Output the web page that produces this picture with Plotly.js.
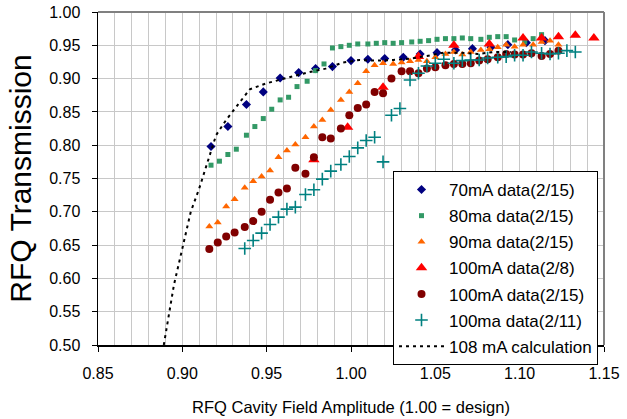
<!DOCTYPE html>
<html>
<head>
<meta charset="utf-8">
<script src="https://cdn.plot.ly/plotly-3.0.1.min.js"></script>
<style>html,body{margin:0;padding:0;background:#fff;}#chart{width:627px;height:419px;}</style>
</head>
<body>
<div id="chart"></div>
<script>
// ---- data ----
const seriesNames = ["70mA data(2/15)", "80ma data(2/15)", "90ma data(2/15)", "100mA data(2/8)", "100mA data(2/15)", "100ma data(2/11)", "108 mA calculation"];

const x70 = [0.917,0.927,0.938,0.948,0.958,0.969,0.979,0.989,1.000,1.010,1.020,1.031,1.041,1.051,1.062,1.072,1.083,1.093,1.104,1.115];
const y70 = [0.798,0.828,0.861,0.880,0.901,0.909,0.915,0.918,0.927,0.929,0.930,0.932,0.937,0.939,0.943,0.945,0.947,0.951,0.954,0.957];

const x80 = [0.917,0.922,0.927,0.932,0.938,0.943,0.948,0.953,0.958,0.963,0.968,0.974,0.979,0.984,0.989,0.994,0.999,1.004,1.010,1.015,1.020,1.025,1.030,1.036,1.041,1.046,1.051,1.056,1.061,1.066,1.071,1.077,1.082,1.087,1.092,1.097,1.103,1.108,1.113];
const y80 = [0.770,0.776,0.786,0.794,0.815,0.828,0.840,0.854,0.868,0.872,0.888,0.896,0.912,0.922,0.946,0.948,0.950,0.952,0.952,0.953,0.954,0.953,0.954,0.955,0.956,0.957,0.959,0.960,0.960,0.961,0.960,0.959,0.962,0.963,0.963,0.958,0.955,0.960,0.966];

const x90 = [0.916,0.921,0.926,0.931,0.937,0.942,0.947,0.952,0.957,0.962,0.967,0.973,0.978,0.983,0.988,0.994,0.999,1.004,1.009,1.014,1.019,1.025,1.030,1.035,1.040,1.045,1.050,1.056,1.061,1.066,1.071,1.077,1.082,1.087,1.092,1.097,1.102,1.108,1.113,1.118,1.123];
const y90 = [0.678,0.684,0.708,0.719,0.736,0.746,0.753,0.762,0.782,0.792,0.801,0.812,0.828,0.838,0.853,0.868,0.880,0.893,0.911,0.920,0.923,0.922,0.924,0.926,0.928,0.926,0.932,0.937,0.940,0.936,0.940,0.943,0.944,0.947,0.951,0.948,0.951,0.951,0.955,0.957,0.951];

const x100a = [0.978,0.998,1.019,1.040,1.061,1.082,1.102,1.113,1.123,1.133,1.144];
const y100a = [0.778,0.827,0.887,0.933,0.950,0.952,0.961,0.961,0.963,0.965,0.961];

const x100b = [0.916,0.921,0.926,0.931,0.937,0.942,0.947,0.952,0.957,0.962,0.967,0.973,0.978,0.983,0.988,0.994,0.999,1.004,1.009,1.014,1.019,1.024,1.030,1.035,1.040,1.045,1.050,1.056,1.061,1.066,1.071,1.076,1.081,1.087,1.092,1.097,1.102,1.107,1.113,1.118,1.123];
const y100b = [0.644,0.654,0.663,0.669,0.677,0.686,0.700,0.718,0.729,0.735,0.766,0.757,0.782,0.812,0.810,0.825,0.845,0.856,0.861,0.880,0.878,0.900,0.911,0.911,0.908,0.915,0.917,0.920,0.922,0.922,0.923,0.927,0.929,0.932,0.937,0.936,0.936,0.938,0.934,0.937,0.942];

const x100c = [0.937,0.942,0.947,0.952,0.957,0.962,0.967,0.973,0.978,0.983,0.988,0.994,0.999,1.004,1.009,1.014,1.019,1.024,1.029,1.035,1.040,1.045,1.050,1.055,1.061,1.066,1.071,1.076,1.081,1.087,1.092,1.097,1.102,1.107,1.113,1.118,1.123,1.128,1.133];
const y100c = [0.645,0.657,0.668,0.681,0.692,0.704,0.707,0.726,0.733,0.749,0.761,0.771,0.783,0.796,0.807,0.812,0.775,0.845,0.855,0.898,0.908,0.919,0.923,0.929,0.923,0.927,0.928,0.928,0.931,0.932,0.933,0.935,0.935,0.940,0.938,0.937,0.938,0.942,0.940];

const xCalc = [0.889,0.895,0.900,0.905,0.910,0.913,0.916,0.920,0.926,0.932,0.940,0.950,0.960,0.974,0.985,0.995,1.005,1.015,1.025,1.035,1.045,1.055,1.065,1.075,1.085,1.095];
const yCalc = [0.500,0.590,0.645,0.700,0.735,0.758,0.783,0.815,0.838,0.858,0.884,0.893,0.900,0.909,0.915,0.924,0.928,0.927,0.928,0.930,0.934,0.939,0.939,0.937,0.940,0.940];

const xTicks = [0.85,0.90,0.95,1.00,1.05,1.10,1.15];
const yTicks = [0.50,0.55,0.60,0.65,0.70,0.75,0.80,0.85,0.90,0.95,1.00];

function pts(x, y, name, symbol, color, size, lw) {
  return {x: x, y: y, name: name, type: 'scatter', mode: 'markers', legendgroup: name,
    marker: {symbol: symbol, color: color, size: size, line: {width: lw || 0, color: color}}};
}

const traces = [
  pts(x70, y70, seriesNames[0], 'diamond', '#000080', 7),
  pts(x80, y80, seriesNames[1], 'square', '#339966', 5),
  pts(x90, y90, seriesNames[2], 'triangle-up', '#FF6600', 7),
  pts(x100a, y100a, seriesNames[3], 'triangle-up', '#FF0000', 10),
  pts(x100b, y100b, seriesNames[4], 'circle', '#800000', 8),
  pts(x100c, y100c, seriesNames[5], 'cross-thin-open', '#008080', 9, 1.6),
  {x: xCalc, y: yCalc, name: seriesNames[6], legendgroup: seriesNames[6], type: 'scatter', mode: 'lines',
   line: {color: '#000000', width: 2, dash: '3px,4px'}}
];

const layout = {
  width: 627, height: 419,
  margin: {l: 98, r: 23, t: 12, b: 74},
  paper_bgcolor: '#ffffff', plot_bgcolor: '#ffffff',
  font: {family: 'Liberation Sans, Arial, sans-serif', color: '#000000'},
  showlegend: true,
  xaxis: {
    range: [0.85, 1.15], tickvals: xTicks, ticktext: xTicks.map(v => v.toFixed(2)),
    ticks: 'outside', ticklen: 5, tickcolor: '#000', tickwidth: 1,
    showline: true, linecolor: '#000', linewidth: 1.5,
    showgrid: true, gridcolor: '#c8c8c8', gridwidth: 1,
    minor: {dtick: 0.01, showgrid: true, gridcolor: '#c8c8c8', gridwidth: 1},
    zeroline: false, tickfont: {size: 16}, ticklabelstandoff: 8,
    title: {text: 'RFQ Cavity Field Amplitude (1.00 = design)', font: {size: 16.5}, standoff: 20}
  },
  yaxis: {
    range: [0.50, 1.00], tickvals: yTicks, ticktext: yTicks.map(v => v.toFixed(2)),
    ticks: 'outside', ticklen: 5, tickcolor: '#000', tickwidth: 1,
    showline: true, linecolor: '#000', linewidth: 1.5,
    showgrid: true, gridcolor: '#c8c8c8', gridwidth: 1,
    zeroline: false, tickfont: {size: 16}, ticklabelstandoff: 8,
    title: {text: 'RFQ Transmission', font: {size: 30}, standoff: 8}
  },
  legend: {
    x: 0.583, y: 0.5225, xanchor: 'left', yanchor: 'top',
    bgcolor: '#ffffff', bordercolor: '#000000', borderwidth: 1,
    font: {size: 17}, itemwidth: 45, tracegroupgap: 1
  },
  shapes: [
    {type: 'line', xref: 'paper', yref: 'paper', x0: 0, x1: 1, y0: 1, y1: 1, line: {color: '#808080', width: 2}},
    {type: 'line', xref: 'paper', yref: 'paper', x0: 1, x1: 1, y0: 0, y1: 1, line: {color: '#808080', width: 2}}
  ]
};

Plotly.newPlot('chart', traces, layout, {displayModeBar: false, staticPlot: true});
</script>
</body>
</html>
